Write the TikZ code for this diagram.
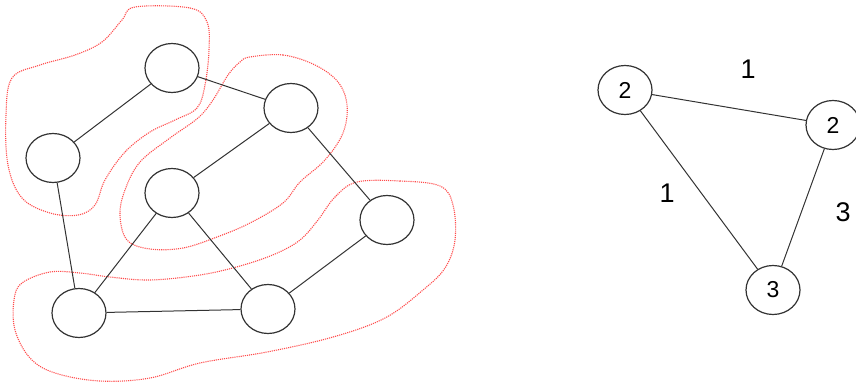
\documentclass[tikz,border=0pt]{standalone}
\usepackage{fontspec}
\setmainfont{Liberation Sans}
\usetikzlibrary{shapes.geometric}

\begin{document}
\begin{tikzpicture}[
    x=1pt, y=-1pt,
    vtx/.style={ellipse, draw=black!80, line width=1.2pt, minimum width=54pt, minimum height=49pt, inner sep=0pt, font=\fontsize{23}{26}\selectfont},
    edg/.style={draw=black!80, line width=1pt},
    blob/.style={draw=red!70, densely dotted, line width=1.1pt},
    lbl/.style={font=\fontsize{27}{30}\selectfont},
]
\useasboundingbox (0,0) rectangle (856,385);
% contracted groups
\draw[blob] plot[smooth cycle, tension=0.6] coordinates {(135,7) (190,8) (207,22) (209,50) (205,85) (197,108) (175,120) (150,132) (125,152) (105,180) (95,205) (78,215) (50,213) (22,198) (8,165) (6,115) (12,78) (40,65) (75,55) (102,42) (122,20)};
\draw[blob] plot[smooth cycle, tension=0.6] coordinates {(250,57) (283,55) (315,65) (338,82) (347,105) (343,133) (325,160) (300,182) (283,203) (250,223) (217,237) (183,248) (150,249) (127,240) (120,215) (125,190) (140,162) (170,138) (198,118) (213,100) (228,75) (240,62)};
\draw[blob] plot[smooth cycle, tension=0.6] coordinates {(357,182) (400,181) (440,186) (453,205) (455,240) (445,268) (423,290) (385,318) (333,337) (267,352) (200,363) (150,378) (100,381) (55,373) (30,358) (15,330) (14,300) (22,283) (50,272) (80,273) (110,277) (150,280) (200,275) (240,266) (275,254) (300,240) (318,220) (335,197)};
% original graph
\node[vtx] (a) at (172,68) {};
\node[vtx] (b) at (53,158) {};
\node[vtx] (c) at (291,108) {};
\node[vtx] (d) at (172,193) {};
\node[vtx] (e) at (387,220) {};
\node[vtx] (f) at (79,313) {};
\node[vtx] (g) at (268,309) {};
\foreach \u/\v in {a/b, a/c, c/d, c/e, b/f, d/f, d/g, f/g, e/g} {
  \draw[edg] (\u) -- (\v);
}
% contracted graph
\node[vtx] (r1) at (625,90) {2};
\node[vtx] (r2) at (833,125) {2};
\node[vtx] (r3) at (773,290) {3};
\draw[edg] (r1) -- (r2);
\draw[edg] (r1) -- (r3);
\draw[edg] (r2) -- (r3);
\node[lbl] (w12) at (748,69) {1};
\node[lbl] (w13) at (667,193) {1};
\node[lbl] (w23) at (843,212) {3};
\end{tikzpicture}
\end{document}
